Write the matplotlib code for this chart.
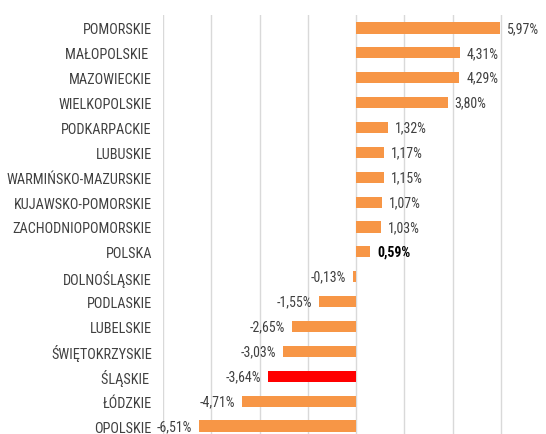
import matplotlib.pyplot as plt

regions = ["POMORSKIE", "MAŁOPOLSKIE ", "MAZOWIECKIE", "WIELKOPOLSKIE", "PODKARPACKIE",
           "LUBUSKIE", "WARMIŃSKO-MAZURSKIE", "KUJAWSKO-POMORSKIE", "ZACHODNIOPOMORSKIE",
           "POLSKA", "DOLNOŚLĄSKIE", "PODLASKIE", "LUBELSKIE", "ŚWIĘTOKRZYSKIE",
           "ŚLĄSKIE ", "ŁÓDZKIE", "OPOLSKIE"]
values = [5.97, 4.31, 4.29, 3.80, 1.32, 1.17, 1.15, 1.07, 1.03,
          0.59, -0.13, -1.55, -2.65, -3.03, -3.64, -4.71, -6.51]

plt.rcParams['font.family'] = ['Roboto Condensed', 'Open Sans Condensed', 'Lato', 'DejaVu Sans']

fig = plt.figure(figsize=(5.46, 4.35), dpi=100)
ax = fig.add_axes([163 / 546, -0.0103, 386 / 546, 0.9724])

colors = ['#FF0000' if r.strip() == 'ŚLĄSKIE' else '#F79646' for r in regions]
pos = list(range(len(regions)))
ax.barh(pos, values, height=0.45, color=colors, zorder=2)

ax.set_xlim(-8, 8)
ax.set_ylim(len(regions) - 0.5, -0.5)
ax.set_xticks(range(-8, 9, 2))
ax.xaxis.grid(True, color='#D9D9D9', linewidth=1, zorder=0)
ax.tick_params(axis='x', length=0, labelbottom=False)
ax.tick_params(axis='y', length=0, pad=8, labelsize=10.3, labelcolor='#404040')
ax.set_yticks(pos)
ax.set_yticklabels(regions)
for s in ax.spines.values():
    s.set_visible(False)

for p, v, r in zip(pos, values, regions):
    label = f"{v:.2f}%".replace('.', ',')
    bold = r == 'POLSKA'
    ax.annotate(label, (v, p), xytext=(5 if v > 0 else -5, 0), textcoords='offset points',
                ha='left' if v > 0 else 'right', va='center', fontsize=10,
                color='#000000' if bold else '#404040',
                fontweight='bold' if bold else 'normal')

fig.savefig("out.png", dpi=100)
